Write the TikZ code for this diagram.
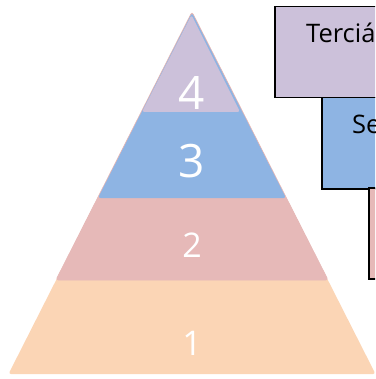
\documentclass[tikz,border=0pt]{standalone}
\usepackage{fontspec}
\setmainfont{Open Sans}
\definecolor{lay1}{HTML}{FBD5B5}
\definecolor{lay2}{HTML}{E6B9B8}
\definecolor{lay3}{HTML}{8EB4E3}
\definecolor{lay4}{HTML}{CCC1DA}
\tikzset{
  layer/.style={rounded corners=2.5pt, line width=0.8pt, line join=round},
  digit/.style={text=white, anchor=base, inner sep=0pt},
  boxshape/.style={draw=black, line width=1.5pt, rectangle, anchor=north west, inner sep=0pt, minimum height=91pt, minimum width=200pt},
  boxlabel/.style={anchor=base west, inner sep=0pt, font=\fontsize{25.5}{29}\selectfont}
}
\begin{document}
\begin{tikzpicture}[x=1pt,y=-1pt]
\useasboundingbox (0,0) rectangle (375,379);
\clip (0,0) rectangle (375,379);
% pyramid layers (stacked triangles sharing the apex)
\coordinate (apex) at (192,12);
\fill[lay1, layer] (apex) -- (375.5,374) -- (8.5,374) -- cycle;
\filldraw[lay2, layer] (apex) -- (328,280) -- (56,280) -- cycle;
\fill[lay3, layer] (192,12.8) -- (286,198) -- (98,198) -- cycle;
\fill[lay4, layer] (191.5,15) -- (240,112) -- (142,112) -- cycle;
% digits
\node[digit, font=\fontsize{46}{50}\selectfont] (d4) at (192,110) {4};
\node[digit, font=\fontsize{46}{50}\selectfont] (d3) at (192,177) {3};
\node[digit, font=\fontsize{34}{38}\selectfont] (d2) at (192,257) {2};
\node[digit, font=\fontsize{34}{38}\selectfont] (d1) at (192,355) {1};
% boxes
\node[boxshape, fill=lay4] (b1) at (274,6) {};
\node[boxshape, fill=lay3] (b2) at (321,97) {};
\node[boxshape, fill=lay2] (b3) at (368,187) {};
\node[boxlabel] (t1) at (306,43) {Terciário};
\node[boxlabel] (t2) at (352,134) {Secundário};
\end{tikzpicture}
\end{document}
